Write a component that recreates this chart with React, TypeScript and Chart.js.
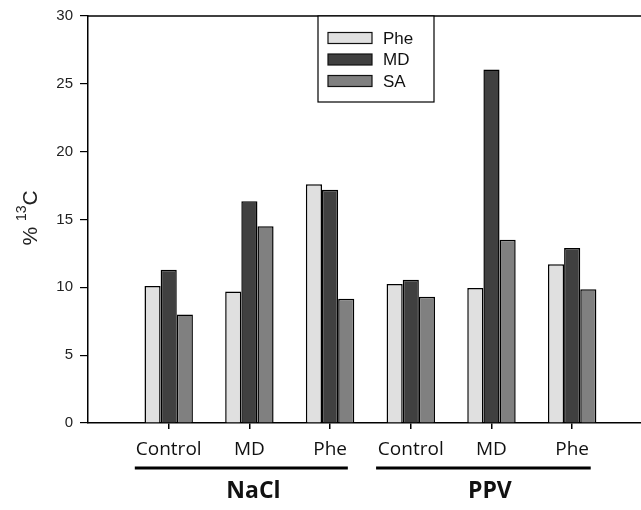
import React, { useEffect, useRef } from "react";
import { Chart, registerables } from "chart.js";

Chart.register(...registerables);

// ---- data ----
const categoryPositions = [1, 2, 3, 4, 5, 6];
const categoryLabels = ["Control", "MD", "Phe", "Control", "MD", "Phe"];
const seriesNames = ["Phe", "MD", "SA"];
const pheValues = [10.1, 9.7, 17.6, 10.25, 9.95, 11.7];
const mdValues = [11.3, 16.35, 17.2, 10.55, 26.05, 12.9];
const saValues = [8.0, 14.5, 9.15, 9.3, 13.5, 9.85];
const seriesColors = ["#e0e0e0", "#404040", "#808080"];
const yTicks = [0, 5, 10, 15, 20, 25, 30];
const groupNames = ["NaCl", "PPV"];
const groupSpans = [
  [0.58, 3.22],
  [3.57, 6.23],
];
const groupLabelPos = [2.05, 4.98];

const seriesValues = [pheValues, mdValues, saValues];

const decorPlugin = {
  id: "decor",
  afterDraw(chart: any) {
    const ctx = chart.ctx;
    const { left, right, top } = chart.chartArea;
    const xs = chart.scales.x;
    ctx.save();
    // top frame line
    ctx.strokeStyle = "#000";
    ctx.lineWidth = 1.5;
    ctx.beginPath();
    ctx.moveTo(left, top);
    ctx.lineTo(right, top);
    ctx.stroke();

    // legend box
    const lx0 = 318, lx1 = 434, ly0 = top, ly1 = 102;
    ctx.fillStyle = "#fff";
    ctx.fillRect(lx0, ly0, lx1 - lx0, ly1 - ly0);
    ctx.lineWidth = 1.2;
    ctx.strokeRect(lx0, ly0, lx1 - lx0, ly1 - ly0);
    ctx.font = "17px 'Liberation Sans', Arial, sans-serif";
    ctx.textBaseline = "middle";
    ctx.textAlign = "left";
    seriesNames.forEach((name, i) => {
      const cy = 38 + i * 21.5;
      ctx.fillStyle = seriesColors[i];
      ctx.fillRect(328, cy - 5.5, 44, 11);
      ctx.lineWidth = 1.2;
      ctx.strokeStyle = "#111";
      ctx.strokeRect(328, cy - 5.5, 44, 11);
      ctx.fillStyle = "#111";
      ctx.fillText(name, 383, cy + 1);
    });

    // y title: % 13C
    ctx.save();
    ctx.translate(30, 218);
    ctx.rotate(-Math.PI / 2);
    ctx.fillStyle = "#222";
    ctx.textBaseline = "alphabetic";
    ctx.textAlign = "left";
    const big = "21px 'Liberation Sans', Arial, sans-serif";
    const small = "14px 'Liberation Sans', Arial, sans-serif";
    ctx.font = big;
    const wPct = ctx.measureText("% ").width;
    ctx.font = small;
    const w13 = ctx.measureText("13").width;
    ctx.font = big;
    const wC = ctx.measureText("C").width;
    const total = wPct + w13 + wC;
    let x = -total / 2;
    ctx.fillText("% ", x, 7);
    x += wPct;
    ctx.font = small;
    ctx.fillText("13", x, -4);
    x += w13;
    ctx.font = big;
    ctx.fillText("C", x, 7);
    ctx.restore();

    // group underlines and labels
    ctx.strokeStyle = "#000";
    ctx.lineWidth = 3;
    groupSpans.forEach((span) => {
      ctx.beginPath();
      ctx.moveTo(xs.getPixelForValue(span[0]), 468);
      ctx.lineTo(xs.getPixelForValue(span[1]), 468);
      ctx.stroke();
    });
    ctx.fillStyle = "#111";
    ctx.font = "bold 23px 'Open Sans', sans-serif";
    ctx.textAlign = "center";
    ctx.textBaseline = "alphabetic";
    groupNames.forEach((g, i) => {
      ctx.fillText(g, xs.getPixelForValue(groupLabelPos[i]), 498);
    });
    ctx.restore();
  },
};

export default function App() {
  const ref = useRef<HTMLCanvasElement>(null);
  useEffect(() => {
    if (!ref.current) return;
    const chart = new Chart(ref.current, {
      type: "bar",
      data: {
        datasets: seriesNames.map((name, i) => ({
          label: name,
          data: categoryPositions.map((p, j) => ({ x: p, y: seriesValues[i][j] })),
          backgroundColor: seriesColors[i],
          borderColor: "#000",
          borderWidth: 1.5,
          categoryPercentage: 0.6,
          barPercentage: 1,
        })),
      },
      options: {
        animation: false,
        responsive: false,
        maintainAspectRatio: false,
        layout: { padding: { top: 15, right: 0, bottom: 0, left: 0 } },
        plugins: { legend: { display: false }, tooltip: { enabled: false } },
        scales: {
          x: {
            type: "linear",
            min: 0,
            max: 6.853,
            offset: false,
            afterFit: (s: any) => {
              s.height = 87;
            },
            afterBuildTicks: (s: any) => {
              s.ticks = [0, ...categoryPositions].map((v) => ({ value: v }));
            },
            ticks: {
              includeBounds: false,
              stepSize: 1,
              autoSkip: false,
              maxRotation: 0,
              padding: 9,
              color: "#111",
              font: { family: "'Open Sans', sans-serif", size: 19 },
              callback: (v: any) => {
                const idx = categoryPositions.indexOf(Number(v));
                return idx >= 0 ? categoryLabels[idx] : "";
              },
            },
            grid: {
              offset: false,
              drawOnChartArea: false,
              tickLength: 6,
              color: (c: any) => (c.tick && c.tick.value === 0 ? "rgba(0,0,0,0)" : "#000"),
              lineWidth: 1.5,
            },
            border: { color: "#000", width: 1.5 },
          },
          y: {
            min: 0,
            max: 30,
            afterFit: (s: any) => {
              s.width = 88;
            },
            afterBuildTicks: (s: any) => {
              s.ticks = yTicks.map((v) => ({ value: v }));
            },
            ticks: {
              padding: 7,
              color: "#222",
              font: { family: "'Liberation Sans', Arial, sans-serif", size: 15 },
            },
            grid: { drawOnChartArea: false, tickLength: 8, color: "#000", lineWidth: 1.2 },
            border: { color: "#000", width: 1.5 },
          },
        },
      },
      plugins: [decorPlugin],
    } as any);
    return () => chart.destroy();
  }, []);
  return (
    <div style={{ position: "absolute", left: 0, top: 0, width: 641, height: 510, overflow: "hidden", background: "#fff" }}>
      <canvas ref={ref} width={641} height={510} style={{ display: "block", width: 641, height: 510 }} />
    </div>
  );
}
